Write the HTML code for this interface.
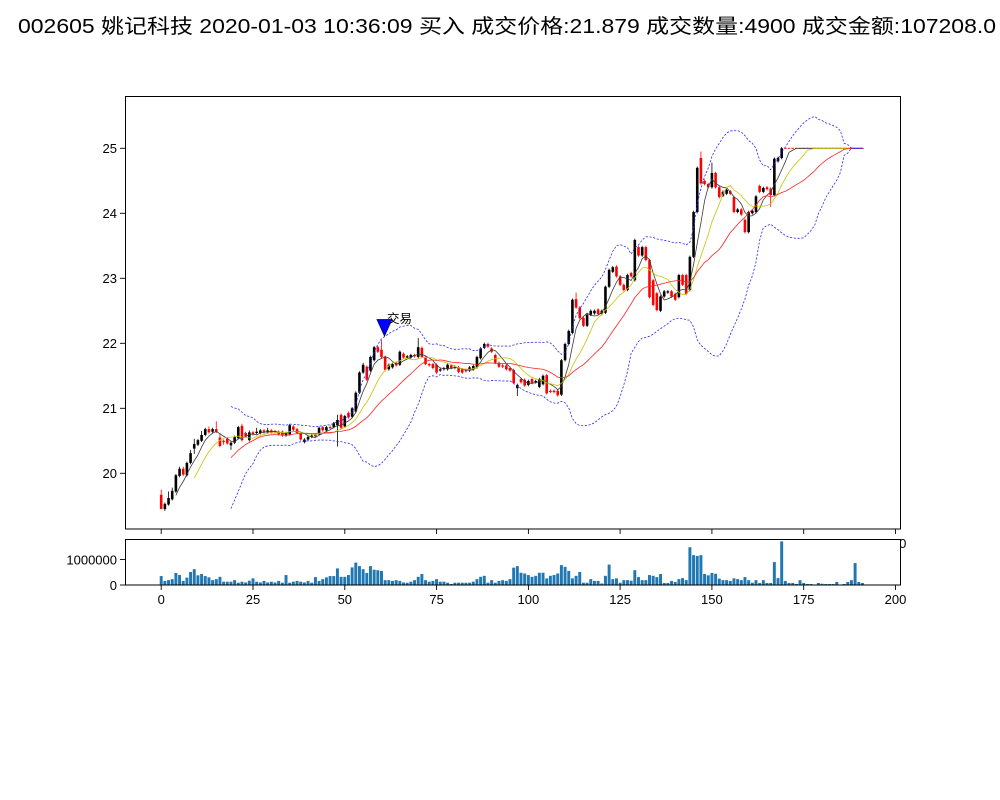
<!DOCTYPE html>
<html><head><meta charset="utf-8">
<style>
html,body{margin:0;padding:0;background:#fff;}
svg{display:block;}
.t{font-family:"Liberation Sans","Noto Sans CJK SC",sans-serif;font-size:13px;fill:#000;}
</style></head>
<body>
<svg id="s" width="1000" height="800" viewBox="0 0 1000 800" xmlns="http://www.w3.org/2000/svg">
<rect x="0" y="0" width="1000" height="800" fill="#fff"/>
<text x="18" y="33" textLength="978" lengthAdjust="spacingAndGlyphs" style="font-family:'Liberation Sans','Noto Sans CJK SC',sans-serif;font-size:20px;fill:#000">002605 姚记科技 2020-01-03 10:36:09 买入 成交价格:21.879 成交数量:4900 成交金额:107208.0</text>
<defs><clipPath id="cm"><rect x="125.5" y="96.5" width="775" height="432.5"/></clipPath>
<clipPath id="cv"><rect x="125.5" y="539.5" width="775" height="45.5"/></clipPath></defs>
<!-- main axes -->
<rect x="125.5" y="96.5" width="775" height="432.5" fill="#fff" stroke="none"/>
<g id="mainplot" clip-path="url(#cm)"></g>
<rect x="125.5" y="96.5" width="775" height="432.5" fill="none" stroke="#000" stroke-width="1"/>
<g stroke="#000" stroke-width="0.9">
<line x1="120" y1="148.3" x2="125.5" y2="148.3"/>
<line x1="120" y1="213.3" x2="125.5" y2="213.3"/>
<line x1="120" y1="278.3" x2="125.5" y2="278.3"/>
<line x1="120" y1="343.3" x2="125.5" y2="343.3"/>
<line x1="120" y1="408.3" x2="125.5" y2="408.3"/>
<line x1="120" y1="473.3" x2="125.5" y2="473.3"/>
<line x1="161.2" y1="529" x2="161.2" y2="534"/>
<line x1="253" y1="529" x2="253" y2="534"/>
<line x1="344.8" y1="529" x2="344.8" y2="534"/>
<line x1="436.6" y1="529" x2="436.6" y2="534"/>
<line x1="528.4" y1="529" x2="528.4" y2="534"/>
<line x1="620.1" y1="529" x2="620.1" y2="534"/>
<line x1="711.9" y1="529" x2="711.9" y2="534"/>
<line x1="803.7" y1="529" x2="803.7" y2="534"/>
<line x1="895.5" y1="529" x2="895.5" y2="534"/>
</g>
<g class="t" text-anchor="end">
<text x="117" y="153">25</text>
<text x="117" y="218">24</text>
<text x="117" y="283">23</text>
<text x="117" y="348">22</text>
<text x="117" y="413">21</text>
<text x="117" y="478">20</text>
</g>
<text class="t" x="895.5" y="548" text-anchor="middle">200</text>
<!-- marker -->
<polygon points="377,319.5 392,319.5 384.5,336" fill="#0000ff" stroke="#00006a" stroke-width="0.8"/>
<text x="387" y="323" style="font-family:'Liberation Sans','Noto Sans CJK SC',sans-serif;font-size:12.5px;fill:#000">交易</text>
<!-- volume axes -->
<rect x="125.5" y="539.5" width="775" height="45.5" fill="#fff" stroke="none"/>
<g id="volplot" clip-path="url(#cv)"></g>
<rect x="125.5" y="539.5" width="775" height="45.5" fill="none" stroke="#000" stroke-width="1"/>
<g stroke="#000" stroke-width="0.9">
<line x1="120" y1="585" x2="125.5" y2="585"/>
<line x1="120" y1="559.5" x2="125.5" y2="559.5"/>
<line x1="161.2" y1="585" x2="161.2" y2="590"/>
<line x1="253" y1="585" x2="253" y2="590"/>
<line x1="344.8" y1="585" x2="344.8" y2="590"/>
<line x1="436.6" y1="585" x2="436.6" y2="590"/>
<line x1="528.4" y1="585" x2="528.4" y2="590"/>
<line x1="620.1" y1="585" x2="620.1" y2="590"/>
<line x1="711.9" y1="585" x2="711.9" y2="590"/>
<line x1="803.7" y1="585" x2="803.7" y2="590"/>
<line x1="895.5" y1="585" x2="895.5" y2="590"/>
</g>
<g class="t" text-anchor="end">
<text x="117" y="564.5">1000000</text>
<text x="117" y="590">0</text>
</g>
<g class="t" text-anchor="middle">
<text x="161.2" y="604">0</text>
<text x="253" y="604">25</text>
<text x="344.8" y="604">50</text>
<text x="436.6" y="604">75</text>
<text x="528.4" y="604">100</text>
<text x="620.1" y="604">125</text>
<text x="711.9" y="604">150</text>
<text x="803.7" y="604">175</text>
<text x="895.5" y="604">200</text>
</g>
</svg>
<script>
(function(){
var NS="http://www.w3.org/2000/svg";
function X(i){return 161.2+3.6715*i;}
function Y(v){return 148.3+(25-v)*65;}
var C=[
[19.67,19.45,19.75,19.45],[19.45,19.53,0,19.42],[19.52,19.62,19.72],[19.60,19.73,19.78],[19.72,19.97],
[19.96,20.07,20.10],[20.07,19.98,20.10],[19.97,20.16],[20.16,20.31,20.36],[20.38,20.45,20.53,20.30],
[20.44,20.51],[20.50,20.59,20.65],[20.59,20.68],[20.68,20.63,20.72],[20.64,20.68],
[20.68,20.64,20.80],[20.55,20.42,20.62,20.40],[20.50,20.48,20.52,20.44],[20.53,20.46],[20.43,20.47,0,20.36],
[20.47,20.56],[20.54,20.71,20.73],[20.73,20.51,20.76],[20.62,20.57],[20.51,20.63,20.66],
[20.63,20.60],[20.62,20.64,20.70],[20.62,20.66],[20.66,20.63],[20.63,20.66,20.70],
[20.66,20.63],[20.65,20.64],[20.64,20.60],[20.64,20.58],[20.58,20.62],
[20.60,20.74],[20.72,20.67],[20.68,20.62],[20.62,20.52],[20.48,20.52,0,20.46],
[20.52,20.56],[20.56,20.58],[20.60,20.57],[20.60,20.70],[20.71,20.66],
[20.66,20.71],[20.71,20.70,20.74],[20.71,20.77],[20.74,20.82,20.90,20.41],[20.90,20.70,20.92],
[20.72,20.88],[20.93,20.86],[20.87,21.00],[20.95,21.24],[21.24,21.55],
[21.55,21.67,21.70],[21.64,21.44],[21.58,21.79],[21.74,21.94,21.96],[21.94,21.87],
[21.90,21.79,22.05],[21.79,21.59],[21.60,21.67],[21.63,21.68],[21.70,21.66],
[21.67,21.87],[21.84,21.78],[21.78,21.80],[21.78,21.82],[21.82,21.80],
[21.79,21.94,22.08],[21.93,21.79],[21.79,21.68],[21.68,21.66],[21.68,21.62],
[21.67,21.55],[21.58,21.60],[21.60,21.62],[21.60,21.67],[21.66,21.62],
[21.62,21.64],[21.63,21.56],[21.60,21.55],[21.59,21.57],[21.58,21.63],
[21.60,21.65],[21.63,21.79],[21.77,21.92],[21.93,21.99],[21.99,21.95],
[21.92,21.87],[21.82,21.70],[21.70,21.64],[21.66,21.64],[21.66,21.60],
[21.62,21.58],[21.59,21.39],[21.31,21.36,0,21.19],[21.45,21.40],[21.44,21.35],
[21.36,21.42],[21.45,21.39],[21.40,21.42],[21.33,21.45],[21.37,21.50],
[21.51,21.23],[21.27,21.25],[21.27,21.25],[21.27,21.20],[21.21,21.74],
[21.74,21.99],[21.99,22.19],[22.16,22.67],[22.68,22.55,22.78],[22.55,22.39],
[22.39,22.27],[22.27,22.44],[22.44,22.50],[22.46,22.50],[22.52,22.45],
[22.45,22.50],[22.47,22.87],[22.87,23.13],[23.10,23.17],[23.18,23.03],
[23.03,22.90],[22.90,22.82],[22.82,23.05],[23.08,23.03],[22.97,23.59],
[23.48,23.35],[23.35,23.48],[23.48,23.28],[23.28,22.71],[22.97,22.59],
[22.77,22.51],[22.50,22.72],[22.72,22.80],[22.78,22.80],[22.80,22.72],
[22.76,22.67],[22.71,23.05],[23.05,22.90],[23.05,22.76],[22.82,23.33],
[23.33,24.02],[24.02,24.70],[24.85,24.46,24.95],[24.50,24.45],[24.45,24.40],
[24.40,24.62,24.78],[24.62,24.40],[24.40,24.25],[24.27,24.33],[24.30,24.36],
[24.34,24.30],[24.25,24.02],[24.02,24.06],[24.06,23.98],[23.90,23.71],
[23.71,24.02],[24.00,24.04],[24.02,24.26],[24.42,24.33],[24.33,24.39],
[24.40,24.37],[24.38,24.28,0,24.10],[24.28,24.84],[24.80,24.85],[24.85,25.00]
];
while(C.length<192) C.push([25,25,25,25]);
var V=[0.35,0.16,0.19,0.23,0.47,0.39,0.16,0.29,0.51,0.62,0.38,0.43,0.35,0.30,0.19,0.23,0.32,0.13,0.13,0.13,
0.19,0.09,0.13,0.10,0.17,0.26,0.13,0.10,0.16,0.10,0.13,0.10,0.16,0.09,0.39,0.09,0.13,0.16,0.13,0.10,
0.16,0.09,0.31,0.16,0.23,0.30,0.35,0.35,
0.65,0.32,0.32,0.39,0.69,0.88,0.74,0.62,0.47,0.74,0.60,0.58,0.55,
0.19,0.19,0.16,0.19,0.16,0.10,0.09,0.13,0.19,0.32,0.43,0.19,0.13,0.16,0.23,0.13,0.13,0.09,0.04,0.09,
0.09,0.09,0.09,0.09,0.13,0.23,0.32,0.36,0.09,0.19,0.09,0.16,0.19,0.16,0.23,0.68,0.74,0.48,0.45,0.39,
0.32,0.36,0.48,0.48,0.26,0.36,0.39,0.45,0.78,0.71,0.55,0.26,0.36,0.51,0.09,0.09,0.23,0.16,0.16,0.06,
0.36,0.80,
0.23,0.26,0.09,0.19,0.19,0.17,0.58,0.31,0.19,0.19,0.39,0.36,0.31,0.43,0.08,0.08,0.16,0.12,0.23,0.27,
0.19,1.48,1.17,1.14,1.17,0.43,0.38,0.47,0.44,0.25,0.19,0.19,0.16,0.26,0.23,0.19,0.31,0.19,0.09,0.19,
0.08,0.19,0.08,0.08,0.90,0.27,1.71,0.16,0.08,0.08,0.04,0.19,0.08,0.04,0.04,0.0,0.08,0.05,0.04,0.04,
0.04,0.12,0.0,0.04,0.12,0.19,0.86,0.12,0.08];
var mp=document.getElementById("mainplot"), vp=document.getElementById("volplot");
function el(tag,attrs,parent){var e=document.createElementNS(NS,tag);for(var k in attrs)e.setAttribute(k,attrs[k]);parent.appendChild(e);return e;}
var closes=C.map(function(c){return c[1];});
function ma(n){return closes.map(function(_,i){if(i<n-1)return null;var s=0;for(var j=i-n+1;j<=i;j++)s+=closes[j];return s/n;});}
var m5=ma(5),m10=ma(10),m20=ma(20);
var up=[],lo=[];
for(var i=0;i<closes.length;i++){
  if(i<19){up.push(null);lo.push(null);continue;}
  var m=m20[i],s=0;for(var j=i-19;j<=i;j++)s+=(closes[j]-m)*(closes[j]-m);
  var sd=Math.sqrt(s/20);up.push(m+2*sd);lo.push(m-2*sd);
}
function line(arr,attrs){
  var pts=[];for(var i=0;i<arr.length;i++){if(arr[i]!==null)pts.push(X(i).toFixed(2)+","+Y(arr[i]).toFixed(2));}
  attrs.points=pts.join(" ");attrs.fill="none";el("polyline",attrs,mp);
}
// candles
for(var i=0;i<C.length;i++){
  var c=C[i],o=c[0],cl=c[1];
  var mx=Math.max(o,cl),mn=Math.min(o,cl);
  var h=c[2]||mx+0.02,l=c[3]||mn-0.02;
  var col=cl>o?"#000000":"#ff0000";
  if(h>l) el("line",{x1:X(i),x2:X(i),y1:Y(h),y2:Y(l),stroke:col,"stroke-width":0.8},mp);
  var yt=Y(mx),hh=Math.max(Y(mn)-yt,0.9);
  if(mx===mn){yt-=0.45;}
  el("rect",{x:(X(i)-1.3).toFixed(2),y:yt.toFixed(2),width:2.6,height:hh.toFixed(2),fill:col},mp);
}
line(m5,{stroke:"#3a3a3a","stroke-width":0.8});
line(m10,{stroke:"#c8c400","stroke-width":0.8});
line(m20,{stroke:"#ff2020","stroke-width":0.8});
line(up,{stroke:"#2a2aff","stroke-width":0.8,"stroke-dasharray":"2.2,1.6"});
line(lo,{stroke:"#2a2aff","stroke-width":0.8,"stroke-dasharray":"2.2,1.6"});
// volume
for(var i=0;i<V.length&&i<192;i++){
  var hv=V[i]*25.5;
  if(hv<=0)continue;
  el("rect",{x:(X(i)-1.47).toFixed(2),y:(585-hv).toFixed(2),width:2.94,height:hv.toFixed(2),fill:"#1f77b4"},vp);
}
})();
</script>
</body></html>
